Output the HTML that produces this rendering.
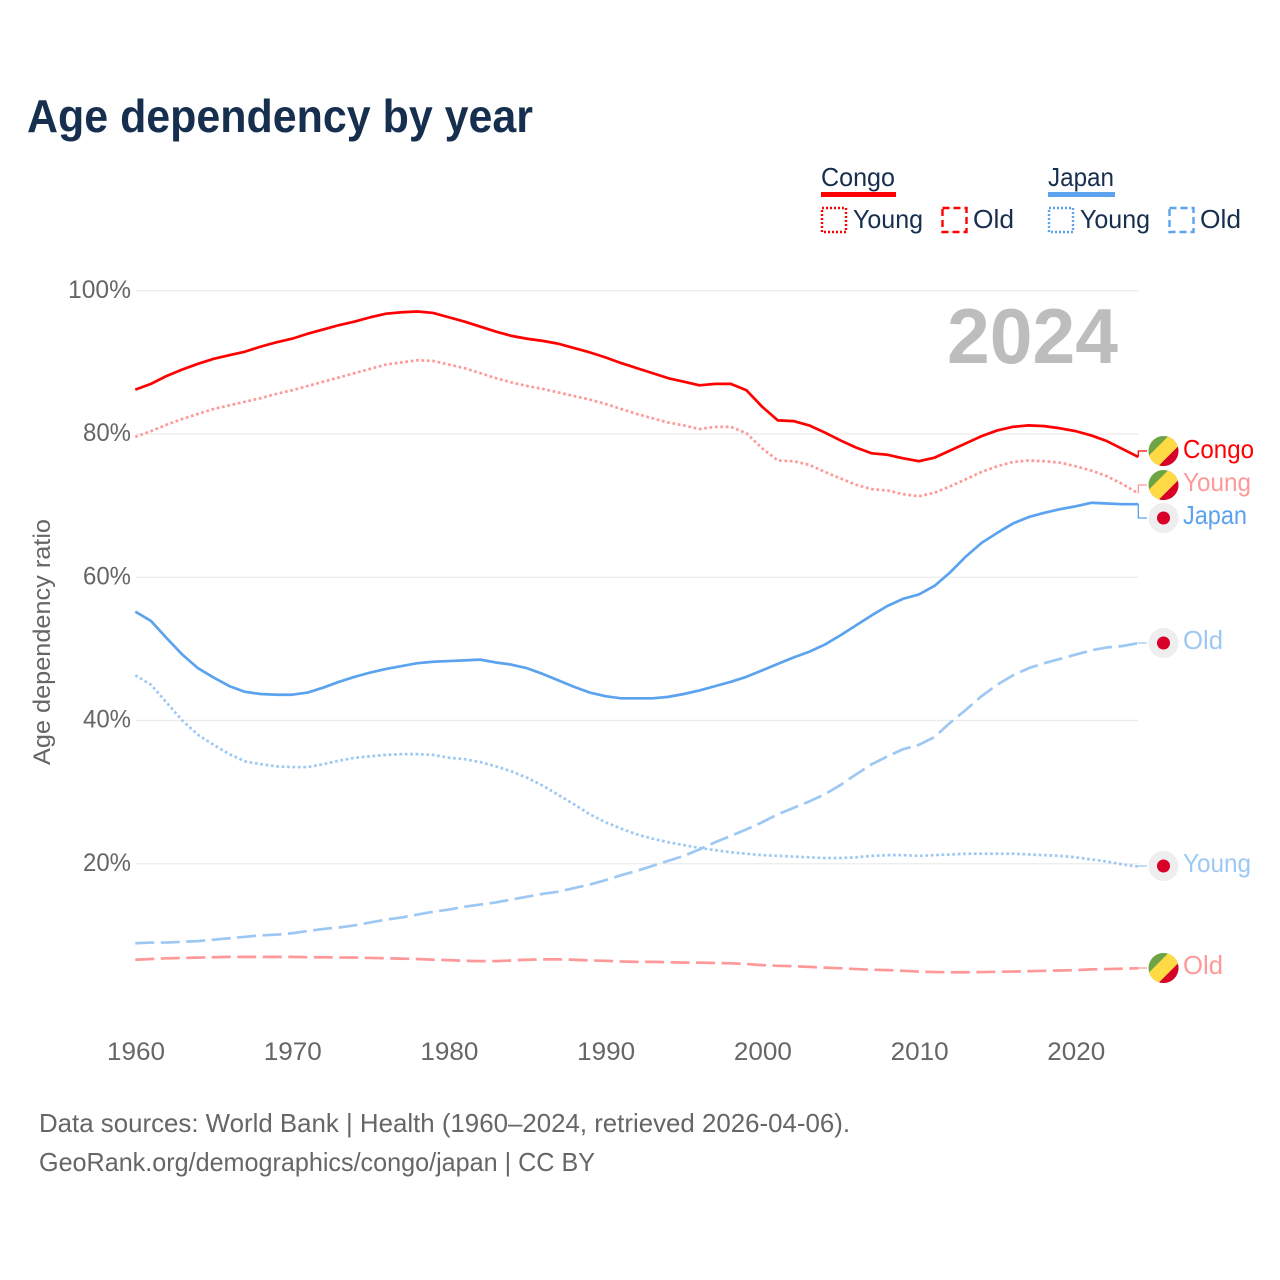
<!DOCTYPE html>
<html lang="en">
<head>
<meta charset="utf-8">
<title>Age dependency by year</title>
<style>
html,body{margin:0;padding:0;background:#fff}
svg{display:block}
text{font-family:"Liberation Sans",sans-serif}
</style>
</head>
<body>
<svg id="chart" width="1280" height="1280" viewBox="0 0 1280 1280" xmlns="http://www.w3.org/2000/svg">
<defs>
<clipPath id="flag-clip"><circle cx="0" cy="0" r="15"/></clipPath>
<g id="flag-congo">
<g clip-path="url(#flag-clip)">
<rect x="-15" y="-15" width="30" height="30" fill="#6da544"/>
<polygon points="-15,15 -15,5 5,-15 15,-15 15,-5 -5,15" fill="#ffda44"/>
<polygon points="-5,15 15,-5 15,15" fill="#d80027"/>
</g>
</g>
<g id="flag-japan">
<circle r="15" fill="#eeeeee"/>
<circle r="6.5" fill="#d80027"/>
</g>
</defs>

<rect width="1280" height="1280" fill="#fff"/>

<text x="27" y="132" font-size="46" font-weight="700" fill="#172f4f" textLength="506" lengthAdjust="spacingAndGlyphs">Age dependency by year</text>

<g font-size="26" fill="#172f4f">
<text x="821" y="186" textLength="74" lengthAdjust="spacingAndGlyphs">Congo</text>
<rect x="821" y="192" width="75" height="5" fill="#ff0000"/>
<rect x="822" y="208" width="24" height="24" fill="none" stroke="#ff0000" stroke-width="2.4" stroke-dasharray="2 2"/>
<text x="853" y="228" textLength="70" lengthAdjust="spacingAndGlyphs">Young</text>
<rect x="942.5" y="208" width="24" height="24" fill="none" stroke="#ff0000" stroke-width="2.4" stroke-dasharray="7 4"/>
<text x="973" y="228" textLength="41" lengthAdjust="spacingAndGlyphs">Old</text>
<text x="1048" y="186" textLength="66" lengthAdjust="spacingAndGlyphs">Japan</text>
<rect x="1048" y="192" width="67" height="5" fill="#5ba3ee"/>
<rect x="1049" y="208" width="24" height="24" fill="none" stroke="#5ba3ee" stroke-width="2.4" stroke-dasharray="2 2"/>
<text x="1080" y="228" textLength="70" lengthAdjust="spacingAndGlyphs">Young</text>
<rect x="1169.5" y="208" width="24" height="24" fill="none" stroke="#5ba3ee" stroke-width="2.4" stroke-dasharray="7 4"/>
<text x="1200" y="228" textLength="41" lengthAdjust="spacingAndGlyphs">Old</text>
</g>

<g id="grid"></g>
<g id="y-ticks"></g>
<g id="x-ticks"></g>

<text transform="translate(50,642) rotate(-90)" text-anchor="middle" font-size="24.5" fill="#666" textLength="246" lengthAdjust="spacingAndGlyphs">Age dependency ratio</text>

<text x="947" y="363" font-size="78" font-weight="700" fill="#bdbdbd" textLength="171" lengthAdjust="spacingAndGlyphs">2024</text>

<g id="series"></g>

<use href="#flag-congo" x="1163.5" y="451"/>
<use href="#flag-congo" x="1163.5" y="485"/>
<use href="#flag-japan" x="1163.5" y="518"/>
<use href="#flag-japan" x="1163.5" y="643"/>
<use href="#flag-japan" x="1163.5" y="866"/>
<use href="#flag-congo" x="1163.5" y="968"/>

<g font-size="26">
<text x="1183" y="458" fill="#ff0000" textLength="71" lengthAdjust="spacingAndGlyphs">Congo</text>
<text x="1183" y="491" fill="#ff9999" textLength="68" lengthAdjust="spacingAndGlyphs">Young</text>
<text x="1183" y="524" fill="#5ba3ee" textLength="64" lengthAdjust="spacingAndGlyphs">Japan</text>
<text x="1183" y="649" fill="#9dc8f3" textLength="40" lengthAdjust="spacingAndGlyphs">Old</text>
<text x="1183" y="872" fill="#9dc8f3" textLength="68" lengthAdjust="spacingAndGlyphs">Young</text>
<text x="1183" y="974" fill="#ff9999" textLength="40" lengthAdjust="spacingAndGlyphs">Old</text>
</g>

<g font-size="26" fill="#666">
<text x="39" y="1132" textLength="811" lengthAdjust="spacingAndGlyphs">Data sources: World Bank | Health (1960–2024, retrieved 2026-04-06).</text>
<text x="39" y="1171" textLength="556" lengthAdjust="spacingAndGlyphs">GeoRank.org/demographics/congo/japan | CC BY</text>
</g>

<script>
const yTickValues = [20, 40, 60, 80, 100];
const xTickYears = [1960, 1970, 1980, 1990, 2000, 2010, 2020];
const firstYear = 1960;
const congoTotal = [86.2,87.0,88.1,89.0,89.8,90.5,91.0,91.5,92.2,92.8,93.3,94.0,94.6,95.2,95.7,96.3,96.8,97.0,97.1,96.9,96.3,95.7,95.0,94.3,93.7,93.3,93.0,92.6,92.0,91.4,90.7,89.9,89.2,88.5,87.8,87.3,86.8,87.0,87.0,86.1,83.8,81.9,81.8,81.2,80.2,79.1,78.1,77.3,77.1,76.6,76.2,76.7,77.7,78.7,79.7,80.5,81.0,81.2,81.1,80.8,80.4,79.8,79.0,77.9,76.8];
const congoYoung = [79.6,80.4,81.3,82.1,82.8,83.5,84.0,84.5,85.0,85.6,86.1,86.7,87.3,87.9,88.5,89.1,89.7,90.0,90.3,90.2,89.7,89.2,88.5,87.8,87.2,86.7,86.3,85.8,85.3,84.8,84.2,83.5,82.8,82.2,81.6,81.2,80.7,81.0,81.0,80.1,78.0,76.3,76.2,75.7,74.7,73.8,72.9,72.3,72.1,71.6,71.3,71.8,72.7,73.7,74.7,75.5,76.1,76.3,76.2,76.0,75.5,74.9,74.1,73.0,71.7];
const congoOld = [6.6,6.7,6.8,6.85,6.9,6.95,7.0,7.0,7.0,7.0,7.0,6.95,6.95,6.9,6.9,6.85,6.8,6.75,6.7,6.6,6.55,6.45,6.4,6.4,6.5,6.6,6.65,6.65,6.6,6.5,6.45,6.35,6.3,6.3,6.25,6.2,6.2,6.15,6.1,6.0,5.85,5.75,5.7,5.6,5.5,5.4,5.3,5.2,5.15,5.05,4.95,4.88,4.85,4.85,4.88,4.92,4.95,5.0,5.05,5.1,5.15,5.25,5.3,5.35,5.4];
const japanTotal = [55.2,53.9,51.5,49.2,47.3,46.0,44.8,44.0,43.7,43.6,43.6,43.9,44.6,45.4,46.1,46.7,47.2,47.6,48.0,48.2,48.3,48.4,48.5,48.1,47.8,47.3,46.5,45.6,44.7,43.9,43.4,43.1,43.1,43.1,43.3,43.7,44.2,44.8,45.4,46.1,47.0,47.9,48.8,49.6,50.6,51.9,53.3,54.7,56.0,57.0,57.6,58.8,60.7,62.9,64.8,66.2,67.5,68.4,69.0,69.5,69.9,70.4,70.3,70.2,70.2];
const japanYoung = [46.3,45.0,42.5,40.0,38.0,36.6,35.3,34.3,33.9,33.6,33.5,33.5,33.9,34.4,34.8,35.0,35.2,35.3,35.3,35.2,34.8,34.6,34.2,33.6,32.9,32.0,30.9,29.6,28.3,26.9,25.8,24.9,24.1,23.5,23.0,22.6,22.2,21.9,21.6,21.4,21.2,21.1,21.0,20.9,20.8,20.8,20.9,21.1,21.2,21.2,21.1,21.2,21.3,21.4,21.4,21.4,21.4,21.3,21.2,21.1,20.9,20.6,20.3,19.9,19.6];
const japanOld = [8.9,9.0,9.0,9.1,9.2,9.4,9.6,9.8,10.0,10.1,10.3,10.6,10.9,11.1,11.4,11.8,12.2,12.5,12.9,13.3,13.6,14.0,14.3,14.6,15.0,15.4,15.8,16.1,16.6,17.1,17.7,18.4,19.0,19.7,20.4,21.1,22.0,23.0,23.9,24.8,25.8,26.9,27.8,28.7,29.7,31.0,32.5,33.9,35.0,36.0,36.6,37.7,39.7,41.5,43.4,45.0,46.3,47.3,48.0,48.6,49.2,49.8,50.2,50.4,50.8];

const NS = 'http://www.w3.org/2000/svg';
function xScale(year) { return 135.3 + (year - firstYear) * 15.672; }
function yScale(v) { return 1007 - v * 7.1625; }

const gridG = document.getElementById('grid');
const yG = document.getElementById('y-ticks');
yTickValues.forEach(function (v) {
  const line = document.createElementNS(NS, 'line');
  
  
  line.setAttribute('x1', 136);
  line.setAttribute('x2', 1138.5);
  line.setAttribute('y1', yScale(v));
  line.setAttribute('y2', yScale(v));
  line.setAttribute('stroke', '#ebebeb');
  line.setAttribute('stroke-width', 1.2);
  gridG.appendChild(line);
  const t = document.createElementNS(NS, 'text');
  
  
  t.setAttribute('x', 131);
  t.setAttribute('y', yScale(v) + 7);
  t.setAttribute('text-anchor', 'end');
  t.setAttribute('font-size', 25);
  t.setAttribute('fill', '#666');
  t.setAttribute('textLength', v === 100 ? 63 : 48);
  t.setAttribute('lengthAdjust', 'spacingAndGlyphs');
  t.textContent = v + '%';
  yG.appendChild(t);
});

const xG = document.getElementById('x-ticks');
xTickYears.forEach(function (yr) {
  const t = document.createElementNS(NS, 'text');
  
  
  t.setAttribute('x', xScale(yr) + 0.7);
  t.setAttribute('y', 1060);
  t.setAttribute('text-anchor', 'middle');
  t.setAttribute('font-size', 25);
  t.setAttribute('fill', '#666');
  t.setAttribute('textLength', 58);
  t.setAttribute('lengthAdjust', 'spacingAndGlyphs');
  t.textContent = yr;
  xG.appendChild(t);
});

function drawSeries(name, values, color, dash, labelY) {
  const g = document.getElementById('series');
  let d = '';
  values.forEach(function (v, i) {
    d += (i ? 'L' : 'M') + xScale(firstYear + i).toFixed(2) + ' ' + yScale(v).toFixed(2);
  });
  const p = document.createElementNS(NS, 'path');
  
  
  p.setAttribute('d', d);
  p.setAttribute('fill', 'none');
  p.setAttribute('stroke', color);
  p.setAttribute('stroke-width', 2.7);
  p.setAttribute('stroke-linejoin', 'round');
  if (dash) p.setAttribute('stroke-dasharray', dash);
  g.appendChild(p);
  const lastX = xScale(firstYear + values.length - 1).toFixed(2);
  const lastY = yScale(values[values.length - 1]).toFixed(2);
  const c = document.createElementNS(NS, 'path');
  
  
  c.setAttribute('d', 'M' + lastX + ' ' + lastY + 'V' + labelY + 'H1147');
  c.setAttribute('fill', 'none');
  c.setAttribute('stroke', color);
  c.setAttribute('stroke-width', 1.3);
  g.appendChild(c);
}
drawSeries('line-japan-old', japanOld, '#9dc8f3', '19 6.5', 643);
drawSeries('line-japan-young', japanYoung, '#9dc8f3', '2.7 2.7', 866);
drawSeries('line-congo-old', congoOld, '#ff9999', '19 6.5', 968);
drawSeries('line-congo-young', congoYoung, '#ff9999', '2.7 2.7', 485);
drawSeries('line-japan-total', japanTotal, '#5ba3ee', '', 518);
drawSeries('line-congo-total', congoTotal, '#ff0000', '', 451);
</script>
</svg>
</body>
</html>
